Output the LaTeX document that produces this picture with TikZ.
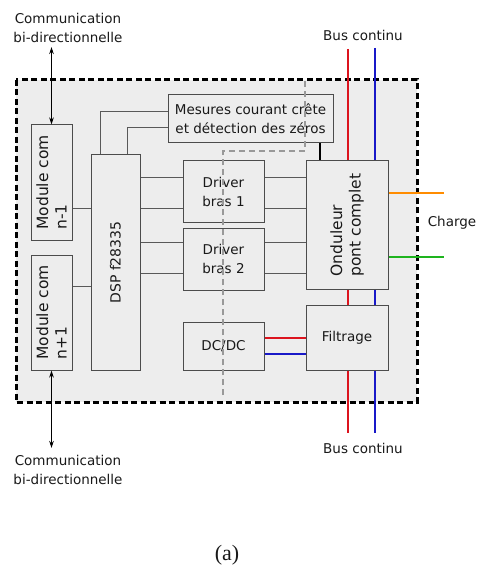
\documentclass[tikz,border=0pt]{standalone}
\usepackage{fontspec}
\setmainfont{DejaVu Sans}
\newfontfamily\capfont{Liberation Serif}
\usetikzlibrary{arrows.meta}

\definecolor{busred}{RGB}{220,20,30}
\definecolor{busblue}{RGB}{25,25,200}
\definecolor{chorange}{RGB}{255,140,0}
\definecolor{chgreen}{RGB}{30,180,30}

\tikzset{
  blk/.style={draw=black!70, fill=black!7, line width=1pt, inner sep=0pt, text=black!90},
  txt/.style={font=\fontsize{13.5}{19}\selectfont, align=center},
  rtxt/.style={font=\fontsize{15.5}{18.5}\selectfont, align=left, rotate=90},
  link/.style={draw=black!65, line width=1pt},
  bus/.style={line width=2.6pt},
  com/.style={line width=0.8pt, {Stealth[length=7pt,width=4.5pt]}-{Stealth[length=7pt,width=4.5pt]}},
  lbl/.style={text=black!90, inner sep=0pt},
}

\begin{document}
\begin{tikzpicture}[x=1pt, y=-1pt]
  \useasboundingbox (0,0) rectangle (477,572);

  % Cadre du module
  \draw[line width=3pt, dash pattern=on 6pt off 3.5pt, fill=black!7] (16,80) rectangle (417,402);

  % Blocs
  \node[blk, rtxt, minimum width=115pt, minimum height=41pt] (mod1) at (51.5,182.5) {Module com\\n-1};
  \node[blk, rtxt, minimum width=115pt, minimum height=41pt] (mod2) at (51.5,312.5) {Module com\\n+1};
  \node[blk, rtxt, font=\fontsize{14}{17}\selectfont, minimum width=215pt, minimum height=49pt] (dsp) at (115.5,262.5) {DSP f28335};
  \node[blk, txt, minimum width=165pt, minimum height=48pt] (mes) at (250.5,119) {Mesures courant crête\\et détection des zéros};
  \node[blk, txt, minimum width=81pt, minimum height=61pt] (drv1) at (223.5,191.5) {Driver\\bras 1};
  \node[blk, txt, minimum width=81pt, minimum height=62pt] (drv2) at (223.5,259) {Driver\\bras 2};
  \node[blk, txt, minimum width=81pt, minimum height=48pt] (dcdc) at (223.5,346) {DC/DC};
  \node[blk, rtxt, minimum width=128pt, minimum height=82pt] (ond) at (347,225) {Onduleur\\pont complet};
  \node[blk, txt, minimum width=82pt, minimum height=65pt] (filt) at (347,337.5) {Filtrage};

  % Liaisons DSP
  \draw[link] (mod1.south |- 0,208) -- (dsp.north |- 0,208);
  \draw[link] (mod2.south |- 0,286) -- (dsp.north |- 0,286);
  \draw[link] (dsp.east -| 100,0) |- (mes.west |- 0,112);
  \draw[link] (dsp.east -| 127,0) |- (mes.west |- 0,128);
  \foreach \yy in {177,208} {
    \draw[link] (dsp.south |- 0,\yy) -- (drv1.west |- 0,\yy);
    \draw[link] (drv1.east |- 0,\yy) -- (ond.north |- 0,\yy);
  }
  \foreach \yy in {242,273} {
    \draw[link] (dsp.south |- 0,\yy) -- (drv2.west |- 0,\yy);
    \draw[link] (drv2.east |- 0,\yy) -- (ond.north |- 0,\yy);
  }
  \draw[line width=2pt] (mes.south -| 320,0) -- (ond.east -| 320,0);

  % Separation (pointilles gris)
  \draw[black!40, line width=1.8pt, dash pattern=on 6pt off 4pt] (223,395) -- (223,151) -- (305,151) -- (305,81);

  % Bus continu
  \coordinate (rt) at (348,49);
  \coordinate (rb) at (348,433);
  \coordinate (bt) at (375,48);
  \coordinate (bb) at (375,433);
  \draw[bus, busred] (rt) -- (ond.east -| rt);
  \draw[bus, busred] (ond.west -| rt) -- (filt.north -| rt);
  \draw[bus, busred] (filt.south -| rt) -- (rb);
  \draw[bus, busblue] (bt) -- (ond.east -| bt);
  \draw[bus, busblue] (ond.west -| bt) -- (filt.north -| bt);
  \draw[bus, busblue] (filt.south -| bt) -- (bb);
  \draw[bus, busred] (dcdc.east |- 0,338) -- (filt.west |- 0,338);
  \draw[bus, busblue] (dcdc.east |- 0,354) -- (filt.west |- 0,354);

  % Charge
  \coordinate (co) at (444,193);
  \coordinate (cg) at (444,257);
  \draw[bus, chorange] (ond.south |- co) -- (co);
  \draw[bus, chgreen] (ond.south |- cg) -- (cg);

  % Communication
  \coordinate (ct) at (51.5,47);
  \coordinate (cb) at (51.5,448);
  \draw[com] (ct) -- (mod1.east);
  \draw[com] (mod2.west) -- (cb);

  % Textes
  \node[lbl, txt] (comtop) at (68,28) {Communication\\bi-directionnelle};
  \node[lbl, txt] (combot) at (68,469.5) {Communication\\bi-directionnelle};
  \node[lbl, txt] (bustop) at (363,35) {Bus continu};
  \node[lbl, txt] (busbot) at (363,448) {Bus continu};
  \node[lbl, txt] (charge) at (452,223) {Charge};
  \node[lbl, font=\capfont\fontsize{22}{24}\selectfont] (cap) at (227,555) {(a)};
\end{tikzpicture}
\end{document}
